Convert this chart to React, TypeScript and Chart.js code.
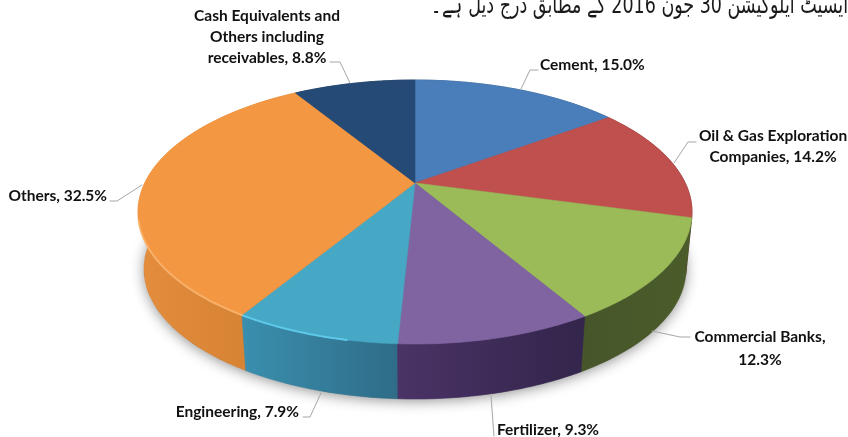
import React, { useEffect, useRef } from "react";
import { Chart, registerables } from "chart.js";

Chart.register(...registerables);

const categories = [
  "Cement",
  "Oil & Gas Exploration Companies",
  "Commercial Banks",
  "Fertilizer",
  "Engineering",
  "Others",
  "Cash Equivalents and Others including receivables",
];
const values = [15.0, 14.2, 12.3, 9.3, 7.9, 32.5, 8.8];
const topColors = ["#4a7ebb", "#c0504d", "#9bbb59", "#8064a2", "#46a8c4", "#f39743", "#254a76"];
const wallLeft = ["#2c4d74", "#7a2f2d", "#46562a", "#4a3366", "#3a8fae", "#e38d3d", "#1a3352"];
const wallRight = ["#2c4d74", "#5f2523", "#4b5c2a", "#33254b", "#2f6c88", "#d27f30", "#1a3352"];
const rimColors = [null, null, null, null, "rgba(98,205,240,0.9)", "rgba(251,184,115,0.8)", null];
const labelLines = [
  ["Cement, 15.0%"],
  ["Oil & Gas Exploration", "Companies, 14.2%"],
  ["Commercial Banks,", "12.3%"],
  ["Fertilizer, 9.3%"],
  ["Engineering, 7.9%"],
  ["Others, 32.5%"],
  ["Cash Equivalents and", "Others including", "receivables, 8.8%"],
];
const labelAnchors = [
  { x: 540, y: 65, align: "left", step: 0 },
  { x: 773, y: 136, align: "center", step: 21 },
  { x: 760, y: 337, align: "center", step: 23 },
  { x: 497, y: 430, align: "left", step: 0 },
  { x: 299, y: 412, align: "right", step: 0 },
  { x: 107, y: 196, align: "right", step: 0 },
  { x: 267, y: 16, align: "center", step: 21 },
];
const leaders = [
  [[538, 70], [530, 70], [521, 89]],
  [[696, 142], [688, 142], [674, 163]],
  [[690, 337], [680, 337], [652, 331]],
  [[494, 436], [491, 396]],
  [[303, 417], [310, 417], [321, 393]],
  [[110, 201], [117, 201], [142, 185]],
  [[330, 62], [340, 62], [350, 83]],
];
const urduTitle = "ایسیٹ ایلوکیشن 30 جون 2016 کے مطابق درج ذیل ہے۔";

const TOP = { cx: 415, cy: 212, rx: 277, ry: 132 };
const BOTTOM = { cx: 415, cy: 269, rx: 271, ry: 130 };
const TILT = -0.22;
const STEPS = 48;

function project(angle: number, e: typeof TOP, r = 1) {
  const u = Math.cos(angle) * r;
  const v = Math.sin(angle) * r;
  const d = 1 + TILT * v;
  const s = Math.sqrt(1 - TILT * TILT);
  return { x: e.cx + (e.rx * u * s) / d, y: e.cy + (e.ry * (v + TILT)) / d };
}

const pie3d = {
  id: "pie3d",
  beforeDatasetsDraw(chart: any) {
    const ctx = chart.ctx as CanvasRenderingContext2D;
    const arcs = chart.getDatasetMeta(0).data as any[];
    const pts = (a0: number, a1: number, e: typeof TOP) => {
      const out = [];
      for (let i = 0; i <= STEPS; i++) out.push(project(a0 + ((a1 - a0) * i) / STEPS, e));
      return out;
    };

    // soft shadow under the disc
    ctx.save();
    ctx.shadowColor = "rgba(0,0,0,0.45)";
    ctx.shadowBlur = 14;
    ctx.shadowOffsetY = 2;
    ctx.fillStyle = "#555";
    ctx.beginPath();
    pts(0, Math.PI * 2, BOTTOM).forEach((p, i) => (i ? ctx.lineTo(p.x, p.y) : ctx.moveTo(p.x, p.y)));
    ctx.closePath();
    ctx.fill();
    ctx.restore();

    // side walls, back to front
    const order = arcs
      .map((arc, i) => ({ arc, i, y: project((arc.startAngle + arc.endAngle) / 2, TOP).y }))
      .sort((a, b) => a.y - b.y);
    for (const { arc, i } of order) {
      const top = pts(arc.startAngle, arc.endAngle, TOP);
      const bot = pts(arc.startAngle, arc.endAngle, BOTTOM);
      const xs = top.map((p) => p.x);
      const g = ctx.createLinearGradient(Math.min(...xs), 0, Math.max(...xs), 0);
      g.addColorStop(0, wallLeft[i]);
      g.addColorStop(1, wallRight[i]);
      ctx.fillStyle = g;
      ctx.strokeStyle = g;
      ctx.lineWidth = 0.6;
      ctx.beginPath();
      top.forEach((p, k) => (k ? ctx.lineTo(p.x, p.y) : ctx.moveTo(p.x, p.y)));
      bot.reverse().forEach((p) => ctx.lineTo(p.x, p.y));
      ctx.closePath();
      ctx.fill();
      ctx.stroke();
    }

    // top faces, from the library's computed arc angles
    arcs.forEach((arc, i) => {
      const apex = project(0, TOP, 0);
      ctx.fillStyle = topColors[i];
      ctx.strokeStyle = topColors[i];
      ctx.lineWidth = 0.6;
      ctx.beginPath();
      ctx.moveTo(apex.x, apex.y);
      pts(arc.startAngle, arc.endAngle, TOP).forEach((p) => ctx.lineTo(p.x, p.y));
      ctx.closePath();
      ctx.fill();
      ctx.stroke();
    });

    // rim highlights on the front-left edge
    arcs.forEach((arc, i) => {
      const rim = rimColors[i];
      if (!rim) return;
      ctx.strokeStyle = rim;
      ctx.lineWidth = 2;
      ctx.lineCap = "round";
      const span = arc.endAngle - arc.startAngle;
      const a1 = i === 5 ? arc.startAngle + span * 0.36 : arc.endAngle;
      const a0 = i === 4 ? arc.startAngle + span * 0.3 : arc.startAngle;
      ctx.beginPath();
      pts(a0, a1, TOP).forEach((p, k) => (k ? ctx.lineTo(p.x, p.y) : ctx.moveTo(p.x, p.y)));
      ctx.stroke();
    });
    return false;
  },
  afterDraw(chart: any) {
    const ctx = chart.ctx as CanvasRenderingContext2D;
    ctx.save();
    ctx.strokeStyle = "#a6a6a6";
    ctx.lineWidth = 1;
    leaders.forEach((line) => {
      ctx.beginPath();
      line.forEach(([x, y], i) => (i ? ctx.lineTo(x, y) : ctx.moveTo(x, y)));
      ctx.stroke();
    });
    ctx.fillStyle = "#111";
    ctx.font = "bold 15.5px Lato";
    ctx.textBaseline = "middle";
    labelLines.forEach((lines, i) => {
      const a = labelAnchors[i];
      ctx.textAlign = a.align as CanvasTextAlign;
      lines.forEach((t, k) => ctx.fillText(t, a.x, a.y + k * a.step));
    });
    ctx.direction = "rtl";
    ctx.textAlign = "right";
    ctx.textBaseline = "alphabetic";
    ctx.font = "25px 'DejaVu Sans'";
    ctx.fillStyle = "#1a1a1a";
    ctx.translate(848, 13);
    ctx.scale(0.7, 1);
    ctx.fillText(urduTitle, 0, 0);
    ctx.restore();
  },
};

export default function App() {
  const ref = useRef<HTMLCanvasElement>(null);
  useEffect(() => {
    const chart = new Chart(ref.current!, {
      type: "pie",
      data: {
        labels: categories,
        datasets: [{ data: values, backgroundColor: topColors, borderWidth: 0 }],
      },
      options: {
        responsive: false,
        animation: false,
        plugins: { legend: { display: false }, tooltip: { enabled: false } },
      },
      plugins: [pie3d],
    } as any);
    return () => chart.destroy();
  }, []);
  return (
    <div style={{ position: "fixed", left: 0, top: 0, width: 848, height: 437, background: "#fff" }}>
      <canvas ref={ref} width={848} height={437} style={{ display: "block" }} />
    </div>
  );
}
